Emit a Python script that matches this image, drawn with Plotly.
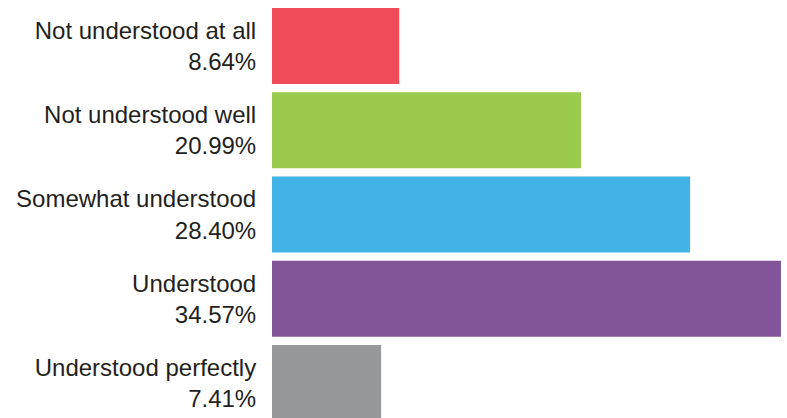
import plotly.graph_objects as go

# Survey responses: how well the topic was understood
categories = [
    "Not understood at all",
    "Not understood well",
    "Somewhat understood",
    "Understood",
    "Understood perfectly",
]
percentages = [8.64, 20.99, 28.40, 34.57, 7.41]
colors = ["#EF4B58", "#9BCB4C", "#41B3E6", "#815597", "#97989A"]

tick_text = [f"{c}<br>{p:.2f}%" for c, p in zip(categories, percentages)]

fig = go.Figure(
    go.Bar(
        x=percentages,
        y=categories,
        orientation="h",
        marker=dict(color=colors, line=dict(width=0)),
        width=0.902,
        hoverinfo="skip",
    )
)

fig.update_layout(
    width=787,
    height=418,
    margin=dict(l=272, r=0, t=0, b=0),
    paper_bgcolor="white",
    plot_bgcolor="white",
    showlegend=False,
    font=dict(family="Liberation Sans, Arial, sans-serif", size=24, color="#231F20"),
)

fig.update_xaxes(
    range=[0, 34.98],
    visible=False,
    showgrid=False,
    zeroline=False,
)

fig.update_yaxes(
    type="category",
    categoryorder="array",
    categoryarray=categories,
    tickmode="array",
    tickvals=categories,
    ticktext=tick_text,
    range=[4.415, -0.546],
    showgrid=False,
    zeroline=False,
    showline=False,
    ticks="outside",
    ticklen=10,
    tickcolor="rgba(0,0,0,0)",
)

fig.write_html("out.html")
